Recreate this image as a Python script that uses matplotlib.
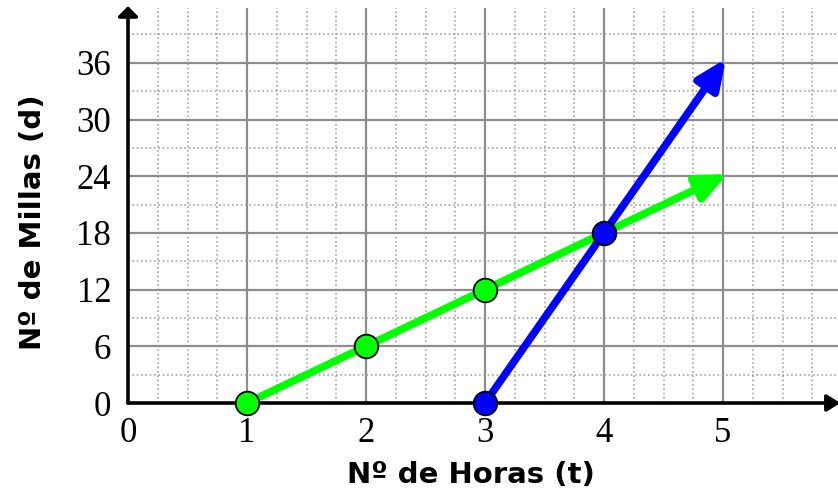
import matplotlib
matplotlib.use("Agg")
import matplotlib.pyplot as plt
import numpy as np

# Data: hours (t) vs miles (d)
green_t = [1, 2, 3, 4, 5]
green_d = [0, 6, 12, 18, 24]
green_marker_t = [1, 2, 3]
green_marker_d = [0, 6, 12]

blue_t = [3, 4, 5]
blue_d = [0, 18, 36]
blue_marker_t = [3, 4]
blue_marker_d = [0, 18]

x_ticks = [0, 1, 2, 3, 4, 5]
y_ticks = [0, 6, 12, 18, 24, 30, 36]

XMAX = 5.966
YMAX = 41.8

fig = plt.figure(figsize=(8.38, 4.96), dpi=100)
ax = fig.add_axes([128 / 838, 93 / 496, (838 - 128) / 838, (403 - 8) / 496])
ax.set_xlim(0, XMAX)
ax.set_ylim(0, YMAX)

for s in ax.spines.values():
    s.set_visible(False)

# grid: solid major lines, dotted minor lines
for xv in np.arange(0.25, XMAX, 0.25):
    if abs(xv - round(xv)) < 1e-9:
        ax.axvline(xv, color="#8c8c8c", lw=1.6, zorder=1)
    else:
        ax.axvline(xv, color="#a4a4a4", lw=1.2, ls=(0, (1, 1.6)), zorder=1)
for yv in np.arange(3, YMAX, 3):
    if yv % 6 == 0:
        ax.axhline(yv, color="#8c8c8c", lw=1.6, zorder=1)
    else:
        ax.axhline(yv, color="#a4a4a4", lw=1.2, ls=(0, (1, 1.6)), zorder=1)

# axes with arrowheads
ax.annotate("", xy=(XMAX + 0.02, 0), xytext=(0, 0), xycoords="data",
            arrowprops=dict(arrowstyle="-|>,head_length=0.8,head_width=0.5",
                            color="black", lw=2.6, shrinkA=0, shrinkB=0),
            annotation_clip=False, zorder=3)
ax.annotate("", xy=(0, YMAX + 0.2), xytext=(0, 0), xycoords="data",
            arrowprops=dict(arrowstyle="-|>,head_length=0.6,head_width=0.6",
                            color="black", lw=2.6, shrinkA=0, shrinkB=0),
            annotation_clip=False, zorder=3)


def arrow_line(ts, ds, color):
    # extend the tip slightly so the sharp point lands on the last value
    p0 = ax.transData.transform((ts[-2], ds[-2]))
    p1 = ax.transData.transform((ts[-1], ds[-1]))
    u = (p1 - p0) / np.hypot(*(p1 - p0))
    tip = ax.transData.inverted().transform(p1 + 5 * u)
    ax.annotate("", xy=tuple(tip), xytext=(ts[0], ds[0]),
                arrowprops=dict(arrowstyle="-|>,head_length=1.8,head_width=0.8",
                                color=color, lw=5.5, shrinkA=0, shrinkB=0),
                zorder=4)


arrow_line(green_t, green_d, "#00ff00")
arrow_line(blue_t, blue_d, "#0000ff")

ax.plot(green_marker_t, green_marker_d, "o", ms=17, mfc="#00ff00",
        mec="black", mew=1.3, zorder=5, clip_on=False)
ax.plot(blue_marker_t, blue_marker_d, "o", ms=17, mfc="#0000ff",
        mec="black", mew=1.3, zorder=6, clip_on=False)

ax.set_xticks(x_ticks)
ax.set_yticks(y_ticks)
ax.tick_params(length=0, labelsize=25)
ax.tick_params(axis="x", pad=10)
ax.tick_params(axis="y", pad=12)
for lab in ax.get_xticklabels() + ax.get_yticklabels():
    lab.set_family("Liberation Serif")

ax.set_xlabel("Nº de Horas (t)", fontsize=21, fontweight="bold",
              family="DejaVu Sans")
ax.set_ylabel("Nº de Millas (d)", fontsize=21, fontweight="bold",
              family="DejaVu Sans")
ax.xaxis.set_label_coords((471 - 128) / 710, -(461 - 403) / 395)
ax.yaxis.set_label_coords(-(128 - 47) / 710, (403 - 222) / 395)

fig.savefig("out.png", dpi=100)
